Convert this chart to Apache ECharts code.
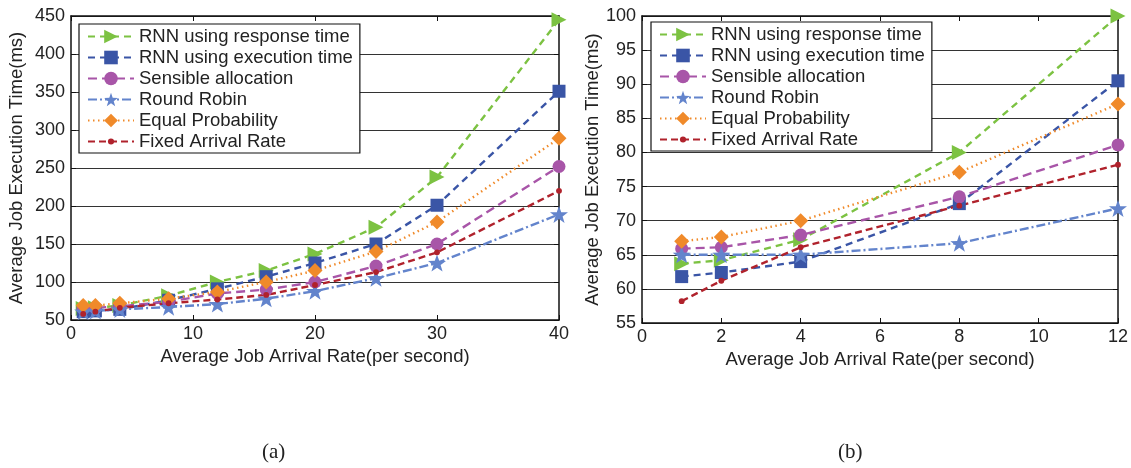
<!DOCTYPE html>
<html><head><meta charset="utf-8">
<script src="https://cdn.jsdelivr.net/npm/echarts@6/dist/echarts.min.js"></script>
<style>html,body{margin:0;padding:0;background:#fff}#c{width:1131px;height:468px}</style>
</head><body><div id="c"></div>
<script>
// ---- data (a) ----
const xA = [1, 2, 4, 8, 12, 16, 20, 25, 30, 40];
const respA = [65, 66, 69, 82, 100, 115, 137, 172, 238, 445];
const execA = [61, 62, 64, 76, 91, 107, 125, 150, 201, 351];
const sensA = [65, 66, 68, 74, 85, 90, 100, 121, 150, 252];
const rrA = [61, 62, 64, 67, 71, 78, 88, 105, 125, 189];
const eqA = [69, 69, 72, 78, 87, 100, 115, 140, 179, 289];
const farA = [58, 61, 66, 72, 77, 83, 96, 113, 139, 220];
// ---- data (b) ----
const xB = [1, 2, 4, 8, 12];
const respB = [63.7, 64.2, 67.2, 80, 100];
const execB = [61.8, 62.4, 64, 72.5, 90.5];
const sensB = [65.9, 66.1, 67.9, 73.5, 81.1];
const rrB = [65, 65, 65, 66.7, 71.8];
const eqB = [67, 67.6, 70, 77.1, 87.1];
const farB = [58.2, 61.2, 66.1, 72.2, 78.2];

const names = ['RNN using response time', 'RNN using execution time', 'Sensible allocation', 'Round Robin', 'Equal Probability', 'Fixed Arrival Rate'];
const xTitle = 'Average Job Arrival Rate(per second)';
const yTitle = 'Average Job Execution Time(ms)';
const captions = ['(a)', '(b)'];

const FONT = 'Liberation Sans, Arial, sans-serif';
const star = 'path://M0,-10L2.35,-3.24L9.51,-3.09L3.8,1.24L5.88,8.09L0,4L-5.88,8.09L-3.8,1.24L-9.51,-3.09L-2.35,-3.24Z';
// small dot inside a larger (empty) bounding box so that the legend icon stays small
const dot = 'path://M-10,-10M10,10M-4.5,0A4.5,4.5,0,1,1,4.5,0A4.5,4.5,0,1,1,-4.5,0Z';
const styles = [
  {color: '#7cc242', type: [7, 5], symbol: 'triangle', rot: -90, size: 15},
  {color: '#3a55a6', type: [7, 5], symbol: 'rect', rot: 0, size: 13},
  {color: '#a855a8', type: [9, 5], symbol: 'circle', rot: 0, size: 13},
  {color: '#6384cc', type: [9, 3, 2, 3], symbol: star, rot: 0, size: 18},
  {color: '#f08a2a', type: [1.5, 3.5], symbol: 'diamond', rot: 0, size: 15},
  {color: '#b0222c', type: [7, 4], symbol: dot, rot: 0, size: 13}
];

function pairs(xs, ys) { return xs.map((x, i) => [x, ys[i]]); }

const seriesA = [respA, execA, sensA, rrA, eqA, farA];
const seriesB = [respB, execB, sensB, rrB, eqB, farB];

function mkSeries(arrs, xs, idx) {
  return arrs.map((ys, i) => ({
    type: 'line', name: names[i], xAxisIndex: idx * 2, yAxisIndex: idx * 2,
    data: pairs(xs, ys), symbol: styles[i].symbol, symbolRotate: styles[i].rot,
    symbolSize: styles[i].size, symbolKeepAspect: true, showAllSymbol: true,
    itemStyle: {color: styles[i].color},
    lineStyle: {color: styles[i].color, width: 2.4, type: styles[i].type},
    animation: false, z: 3
  }));
}

function xAxes(gi, max, interval) {
  return [{
    type: 'value', gridIndex: gi, min: 0, max: max, interval: interval, position: 'bottom',
    name: xTitle, nameLocation: 'middle', nameGap: 24,
    nameTextStyle: {fontFamily: FONT, fontSize: 18.5, color: '#222'},
    axisLine: {show: true, onZero: false, lineStyle: {color: '#111', width: 1.5}},
    axisTick: {show: true, inside: true, length: 5, lineStyle: {color: '#111'}},
    axisLabel: {fontFamily: FONT, fontSize: 18, color: '#222', margin: 5},
    splitLine: {show: false}
  }, {
    type: 'value', gridIndex: gi, min: 0, max: max, interval: interval, position: 'top',
    axisLine: {show: true, onZero: false, lineStyle: {color: '#111', width: 1.5}},
    axisTick: {show: true, inside: true, length: 5, lineStyle: {color: '#111'}},
    axisLabel: {show: false}, splitLine: {show: false}
  }];
}
function yAxes(gi, min, max, interval, gap) {
  return [{
    type: 'value', gridIndex: gi, min: min, max: max, interval: interval, position: 'left',
    name: yTitle, nameLocation: 'middle', nameGap: gap,
    nameTextStyle: {fontFamily: FONT, fontSize: 18.5, color: '#222'},
    axisLine: {show: true, onZero: false, lineStyle: {color: '#111', width: 1.5}},
    axisTick: {show: true, inside: true, length: 5, lineStyle: {color: '#111'}},
    axisLabel: {fontFamily: FONT, fontSize: 18, color: '#222', margin: 6},
    splitLine: {show: true, lineStyle: {color: '#333', width: 1}}
  }, {
    type: 'value', gridIndex: gi, min: min, max: max, interval: interval, position: 'right',
    axisLine: {show: true, onZero: false, lineStyle: {color: '#111', width: 1.5}},
    axisTick: {show: true, inside: true, length: 5, lineStyle: {color: '#111'}},
    axisLabel: {show: false}, splitLine: {show: false}
  }];
}

function legend(left, top) {
  return {
    orient: 'vertical', left: left, top: top, data: names,
    backgroundColor: '#fff', borderColor: '#111', borderWidth: 1.2, borderRadius: 0,
    padding: [3, 7, 2, 8], itemGap: 2, itemWidth: 46, itemHeight: 17,
    textStyle: {fontFamily: FONT, fontSize: 18.5, lineHeight: 19, color: '#222'},
    selectedMode: false
  };
}

const chart = echarts.init(document.getElementById('c'), null, {renderer: 'canvas'});
chart.setOption({
  animation: false,
  backgroundColor: '#fff',
  grid: [
    {left: 71, top: 16, width: 488, height: 304},
    {left: 642, top: 16, width: 478, height: 307}
  ],
  xAxis: [...xAxes(0, 40, 10), ...xAxes(1, 12, 2)],
  yAxis: [...yAxes(0, 50, 450, 50, 45), ...yAxes(1, 55, 100, 5, 39)],
  legend: [legend(79, 24), legend(651, 22)],
  series: [...mkSeries(seriesA, xA, 0), ...mkSeries(seriesB, xB, 1)],
  graphic: [
    {type: 'text', left: 262, top: 442, style: {text: captions[0], font: '21px "Liberation Serif", serif', fill: '#222'}},
    {type: 'text', left: 838, top: 442, style: {text: captions[1], font: '21px "Liberation Serif", serif', fill: '#222'}}
  ]
});
</script></body></html>
